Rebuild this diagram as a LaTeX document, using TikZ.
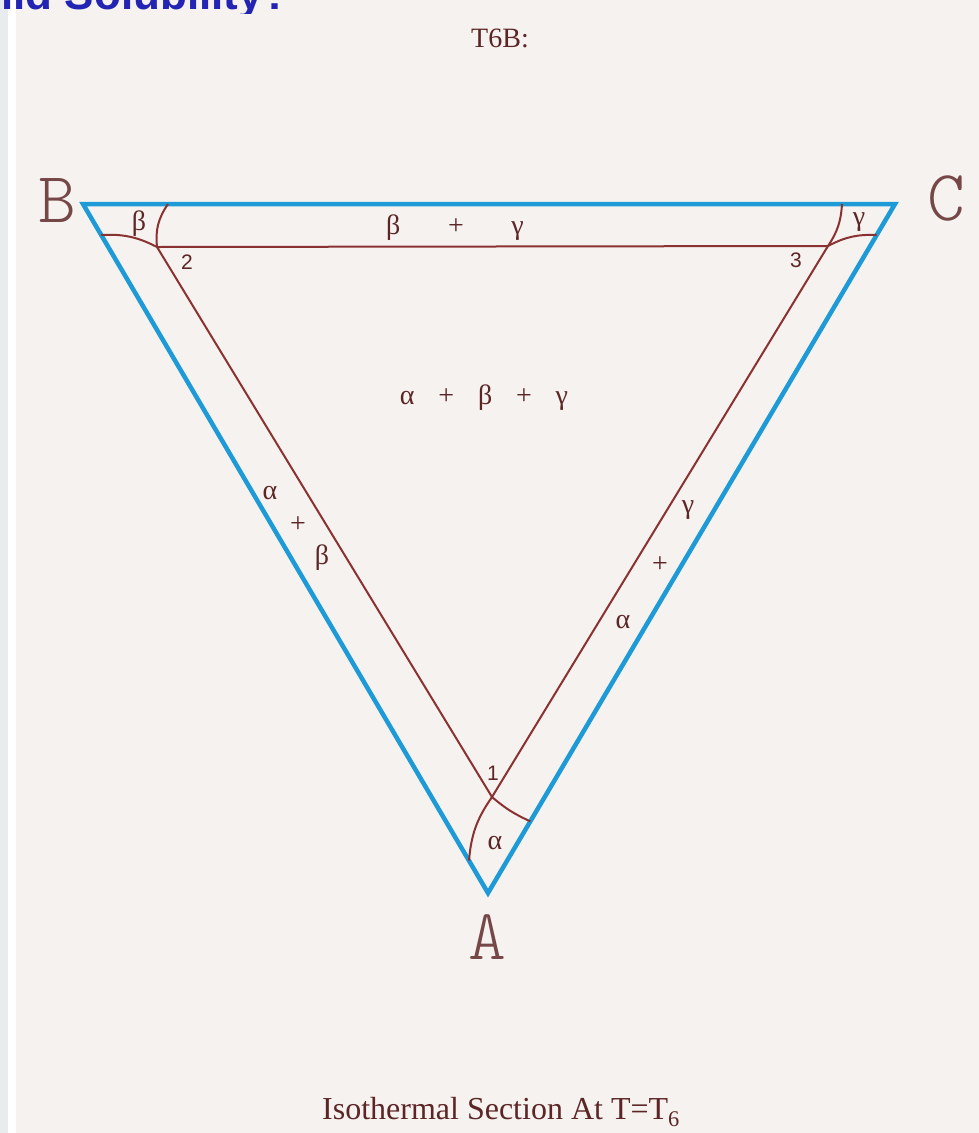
\documentclass[tikz,border=0pt]{standalone}
\usepackage{fontspec}
\setmainfont{Liberation Serif}
\newfontfamily\numfont{Liberation Sans}
\newfontfamily\cornerfont{Latin Modern Mono Light}
\usetikzlibrary{calc}
\definecolor{edgeblue}{HTML}{1E9BD7}
\definecolor{phasebrown}{HTML}{8A3232}
\definecolor{inkbrown}{HTML}{5C2626}
\definecolor{paper}{HTML}{F5F2EF}
\definecolor{stripgray}{HTML}{E8ECEF}
\definecolor{titleblue}{HTML}{2323B4}

\begin{document}
\begin{tikzpicture}[x=1pt,y=-1pt, every node/.style={text=inkbrown, inner sep=0pt},
    blueedge/.style={draw=edgeblue, line width=4.5pt, line join=miter},
    brownline/.style={draw=phasebrown, line width=2pt},
    phase/.style={font=\fontsize{28}{30}\selectfont},
    pointnum/.style={font=\numfont\fontsize{21}{23}\selectfont},
    corner/.style={font=\cornerfont\fontsize{72}{76}\selectfont, text=inkbrown!85}]
    \useasboundingbox (0,0) rectangle (979,1133);
    \fill[paper] (0,0) rectangle (979,1133);
    \fill[stripgray] (0,0) rectangle (8,1133);
    \fill[white] (8,0) rectangle (16,1133);
    % cut-off heading at the top edge
    \begin{scope}
        \clip (0,0) rectangle (979,13);
        \node[anchor=base east, text=titleblue, font=\numfont\bfseries\fontsize{44}{48}\selectfont] (title) at (290,9) {Solid Solubility?};
    \end{scope}
    \coordinate (B) at (83,204);
    \coordinate (C) at (895,204);
    \coordinate (A) at (488,893);
    \coordinate (p2) at (157,247);
    \coordinate (p3) at (828,246);
    \coordinate (p1) at (492,797);
    \coordinate (bl) at ($(B)!0.045!(A)$);
    \coordinate (bt) at (168,204);
    \coordinate (ct) at (842,204);
    \coordinate (cr) at ($(C)!0.045!(A)$);
    \coordinate (al) at ($(A)!0.047!(B)$);
    \coordinate (ar) at ($(A)!0.104!(C)$);
    \draw[blueedge] (B) -- (C) -- (A) -- cycle;
    \draw[brownline] (p2) -- (p3) -- (p1) -- cycle;
    \draw[brownline] (bl) to[bend left=15] (p2);
    \draw[brownline] (bt) to[bend right=20] (p2);
    \draw[brownline] (ct) to[bend left=15] (p3);
    \draw[brownline] (p3) to[bend left=15] (cr);
    \draw[brownline] (p1) to[bend right=15] (al);
    \draw[brownline] (p1) to[bend right=8] (ar);
    \node[font=\fontsize{28}{30}\selectfont] (head) at (500,38) {T6B:};
    \node[corner] (labB) at (57,200) {B};
    \node[corner] (labC) at (946,198) {C};
    \node[corner] (labA) at (487,937) {A};
    \node[phase] (bg) at (455,228) {β\hspace{1.7em}+\hspace{1.7em}γ};
    \node[phase] (abg) at (484,398) {α\hspace{0.85em}+\hspace{0.85em}β\hspace{0.85em}+\hspace{0.85em}γ};
    \node[phase] (cb) at (139,224) {β};
    \node[phase] (cg) at (859,222) {γ};
    \node[phase] (ca) at (495,843) {α};
    \node[phase] (la) at (270,493) {α};
    \node[phase] (lp) at (298,525) {+};
    \node[phase] (lb) at (322,558) {β};
    \node[phase] (rg) at (688,510) {γ};
    \node[phase] (rp) at (660,565) {+};
    \node[phase] (ra) at (623,622) {α};
    \node[pointnum] (n1) at (493,773) {1};
    \node[pointnum] (n2) at (187,262) {2};
    \node[pointnum] (n3) at (796,260) {3};
    \node[font=\fontsize{32}{34}\selectfont] (caption) at (501,1112) {Isothermal Section At T=T\textsubscript{6}};
\end{tikzpicture}
\end{document}
